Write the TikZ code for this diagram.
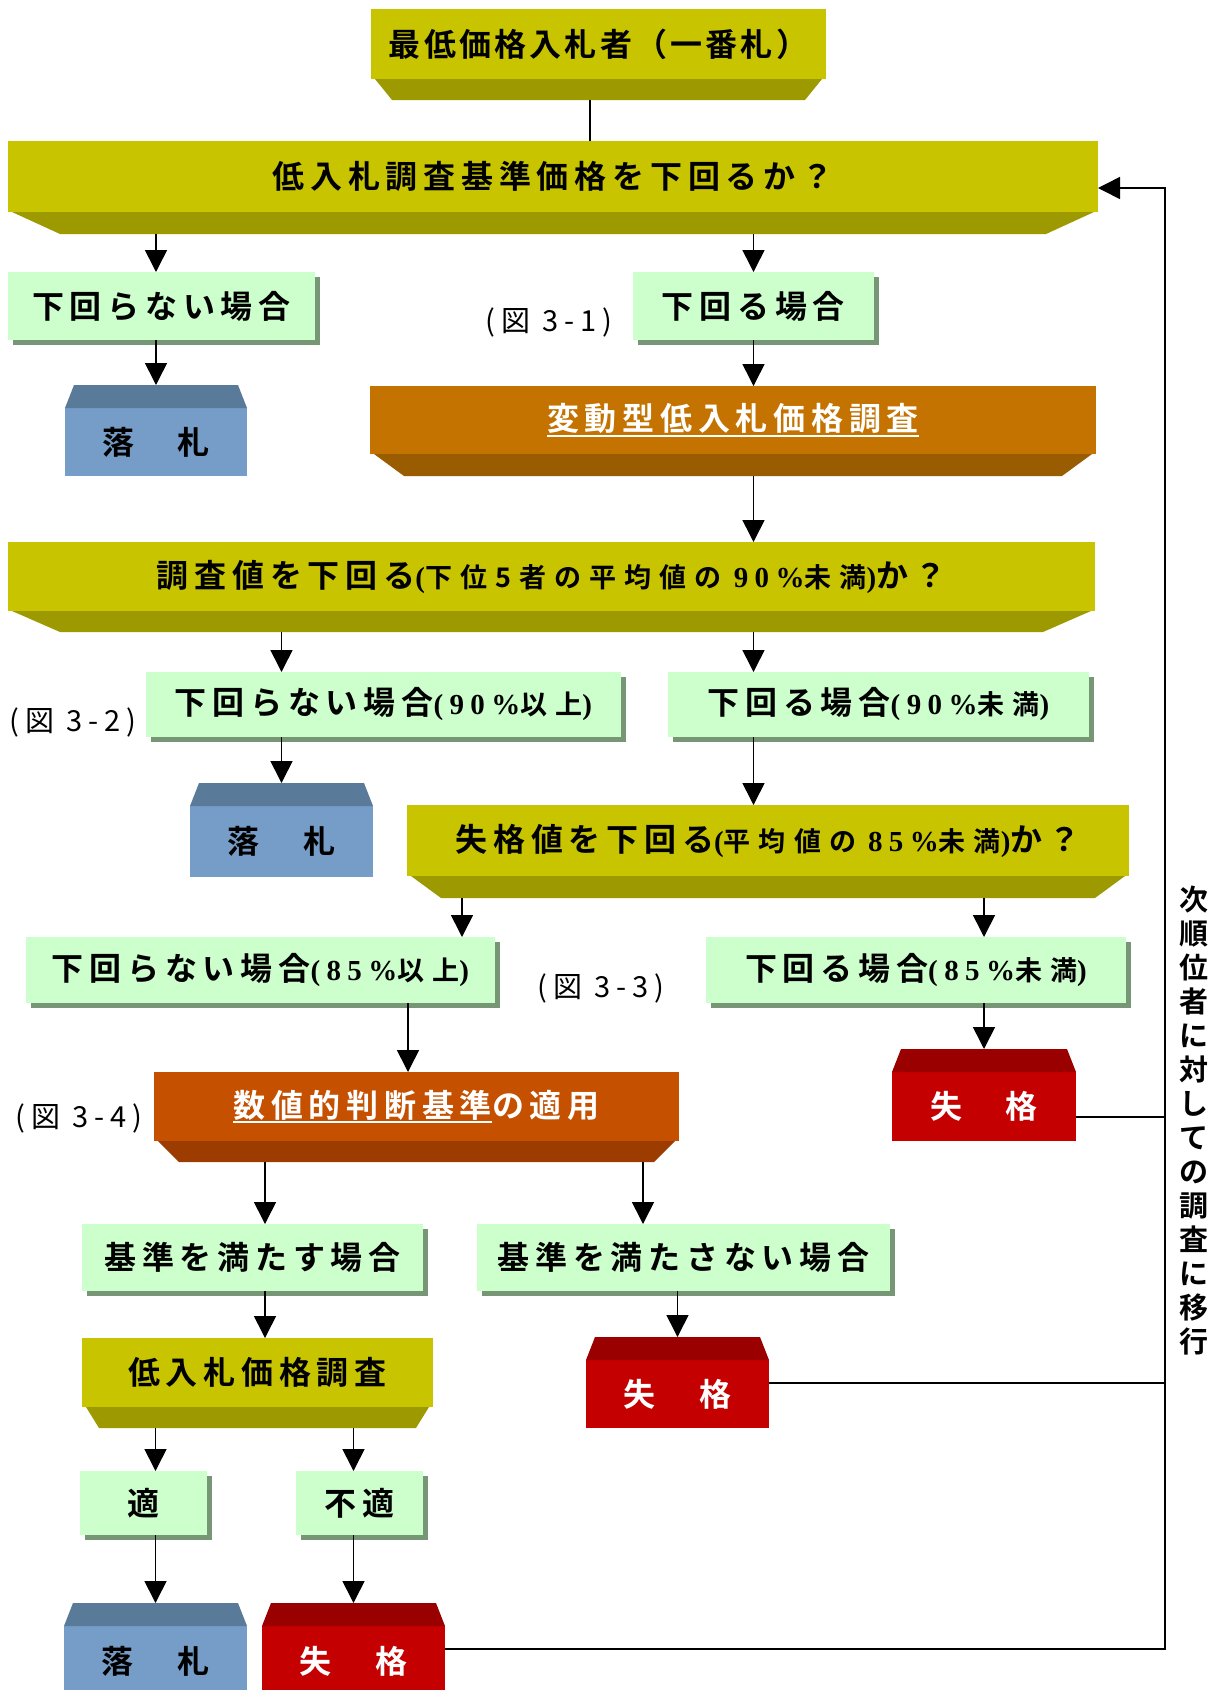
\documentclass[tikz,border=0pt]{standalone}
\usepackage{fontspec}
\usetikzlibrary{arrows.meta,shadows}

\newfontfamily\jpb{Noto Sans CJK JP Bold}
\newfontfamily\jps{Noto Sans CJK JP Bold}[LetterSpace=30]
\newfontfamily\jpr{Noto Sans CJK JP}
\newfontfamily\srb{Liberation Serif Bold}[LetterSpace=22]

\definecolor{yface}{RGB}{200,197,0}
\definecolor{ybev}{RGB}{156,154,0}
\definecolor{gface}{RGB}{204,255,204}
\definecolor{gshad}{RGB}{118,150,118}
\definecolor{bface}{RGB}{117,157,200}
\definecolor{broof}{RGB}{90,122,154}
\definecolor{rface}{RGB}{196,0,0}
\definecolor{rroof}{RGB}{154,0,0}
\definecolor{oface}{RGB}{196,115,0}
\definecolor{obev}{RGB}{154,92,0}
\definecolor{o2face}{RGB}{196,80,0}
\definecolor{o2bev}{RGB}{156,60,0}

\newcommand\jpfont{\jpb\fontsize{32}{36}\selectfont\addfontfeature{LetterSpace=18}}
\newcommand\topfont{\jpb\fontsize{32}{36}\selectfont\addfontfeature{LetterSpace=10}}
\newcommand\figfont{\jpr\fontsize{29}{32}\selectfont\addfontfeature{LetterSpace=20}}
\newcommand\sm[1]{{\jps\fontsize{27}{30}\selectfont #1}}
\newcommand\sr[1]{{\srb\fontsize{29}{30}\selectfont #1}}
\newsavebox\ulbox
\newcommand\ulw[1]{\sbox\ulbox{#1}\rlap{\rule[-6pt]{\wd\ulbox}{2pt}}\usebox\ulbox}

% bevel under a face: node, depth, inset, colour
\newcommand\bevel[4]{%
  \fill[#4] ([xshift=4pt]#1.south west) -- ([xshift=-4pt]#1.south east)
    -- ([shift={(-#3pt,-#2pt)}]#1.south east) -- ([shift={(#3pt,-#2pt)}]#1.south west) -- cycle;
  \coordinate (#1b) at ([yshift=-#2pt]#1.south)}
% roof over a face: node, colour
\newcommand\roof[2]{%
  \fill[#2] (#1.north west) -- (#1.north east)
    -- ([shift={(-9pt,23pt)}]#1.north east) -- ([shift={(9pt,23pt)}]#1.north west) -- cycle;
  \coordinate (#1r) at ([yshift=23pt]#1.north)}

\tikzset{
  box/.style={inner sep=0pt, outer sep=0pt, font=\jpfont},
  yel/.style={box, fill=yface},
  org/.style={box, fill=#1, text=white},
  grn/.style={box, fill=gface, drop shadow={shadow xshift=5pt, shadow yshift=-5pt, fill=gshad, opacity=1}},
  win/.style={box, fill=bface},
  lose/.style={box, fill=rface, text=white},
  fig/.style={inner sep=0pt, font=\figfont},
  ln/.style={line width=1.6pt},
  arr/.style={ln, -{Triangle[width=22pt,length=22pt]}}
}

\begin{document}
\begin{tikzpicture}[x=1pt,y=-1pt]
\fill[white] (0,0) rectangle (1220,1690);
\useasboundingbox (0,0) rectangle (1220,1690);

% first bidder and the first check
\node[yel, minimum width=455pt, minimum height=70pt, font=\topfont] (y1) at (598.5,44) {最低価格入札者（一番札）};
\bevel{y1}{21}{21}{ybev};
\node[yel, minimum width=1090pt, minimum height=71pt] (y2) at (553,176.5) {低入札調査基準価格を下回るか？};
\bevel{y2}{22}{52}{ybev};
\node[grn, minimum width=307pt, minimum height=68pt] (g1) at (161.5,306) {下回らない場合};
\node[grn, minimum width=241pt, minimum height=68pt] (g2) at (753.5,306) {下回る場合};
\node[fig] (fig1) at (549,322) {(図 3-1)};
\node[win, minimum width=182pt, minimum height=68pt] (b1) at (156,442) {落　札};
\roof{b1}{broof};
\node[org=oface, minimum width=726pt, minimum height=68pt] (o1) at (733,420) {\ulw{変動型低入札価格調査}};
\bevel{o1}{22}{34}{obev};

% survey value
\node[yel, minimum width=1087pt, minimum height=69pt] (y3) at (551.5,576.5)
  {調査値を下回る\sr{(}\sm{下位5者の平均値の}\hspace{12pt}\sr{90\%}\sm{未満}\sr{)}か？};
\bevel{y3}{21}{52}{ybev};
\node[grn, minimum width=475pt, minimum height=65pt] (g3) at (383.5,704.5) {下回らない場合\sr{(90\%}\sm{以上}\sr{)}};
\node[grn, minimum width=421pt, minimum height=65pt] (g4) at (878.5,704.5) {下回る場合\sr{(90\%}\sm{未満}\sr{)}};
\node[fig] (fig2) at (73,722) {(図 3-2)};
\node[win, minimum width=183pt, minimum height=71pt] (b2) at (281.5,841.5) {落　札};
\roof{b2}{broof};

% disqualification value
\node[yel, minimum width=722pt, minimum height=71pt] (y4) at (768,840.5)
  {失格値を下回る\sr{(}\sm{平均値の}\hspace{12pt}\sr{85\%}\sm{未満}\sr{)}か？};
\bevel{y4}{22}{34}{ybev};
\node[grn, minimum width=469pt, minimum height=66pt] (g5) at (260.5,970) {下回らない場合\sr{(85\%}\sm{以上}\sr{)}};
\node[grn, minimum width=420pt, minimum height=66pt] (g6) at (916,970) {下回る場合\sr{(85\%}\sm{未満}\sr{)}};
\node[fig] (fig3) at (601,988) {(図 3-3)};
\node[lose, minimum width=184pt, minimum height=69pt] (r1) at (984,1106.5) {失　格};
\roof{r1}{rroof};

% numeric criteria
\node[org=o2face, minimum width=525pt, minimum height=69pt] (o2) at (416.5,1106.5) {\ulw{数値的判断基準}の適用};
\bevel{o2}{21}{25}{o2bev};
\node[fig] (fig4) at (79,1118) {(図 3-4)};
\node[grn, minimum width=341pt, minimum height=67pt] (g7) at (252.5,1257.5) {基準を満たす場合};
\node[grn, minimum width=413pt, minimum height=67pt] (g8) at (683.5,1257.5) {基準を満たさない場合};
\node[lose, minimum width=183pt, minimum height=68pt] (r2) at (677.5,1394) {失　格};
\roof{r2}{rroof};
\node[yel, minimum width=351pt, minimum height=69pt] (y5) at (257.5,1372.5) {低入札価格調査};
\bevel{y5}{21}{17}{ybev};
\node[grn, minimum width=127pt, minimum height=64pt] (g9) at (143.5,1503) {適};
\node[grn, minimum width=127pt, minimum height=64pt] (g10) at (359.5,1503) {不適};
\node[win, minimum width=183pt, minimum height=70pt] (b3) at (155.5,1661) {落　札};
\roof{b3}{broof};
\node[lose, minimum width=183pt, minimum height=70pt] (r3) at (353.5,1661) {失　格};
\roof{r3}{rroof};

\node[inner sep=0pt, align=center, font=\jpb\fontsize{29}{34}\selectfont] (side) at (1194,1121)
  {次\\順\\位\\者\\に\\対\\し\\て\\の\\調\\査\\に\\移\\行};

% connectors
\coordinate (y2in) at (590,141);
\coordinate (g5in) at (462,937);
\coordinate (o2in) at (408,1072);
\coordinate (g7in) at (265,1224);
\coordinate (g8in) at (643,1224);
\coordinate (back) at (1165,188);
\draw[ln] (y1b -| y2in) -- (y2in);
\draw[arr] (y2b -| b1r) -- (g1.north -| b1r);
\draw[arr] (g1.south -| b1r) -- (b1r);
\draw[arr] (y2b -| g2) -- (g2.north);
\draw[arr] (g2.south) -- (o1.north -| g2);
\draw[arr] (o1b -| g2) -- (y3.north -| g2);
\draw[arr] (y3b -| b2r) -- (g3.north -| b2r);
\draw[arr] (g3.south -| b2r) -- (b2r);
\draw[arr] (y3b -| g2) -- (g4.north -| g2);
\draw[arr] (g4.south -| g2) -- (y4.north -| g2);
\draw[arr] (y4b -| g5in) -- (g5in);
\draw[arr] (g5.south -| o2in) -- (o2in);
\draw[arr] (y4b -| r1r) -- (g6.north -| r1r);
\draw[arr] (g6.south -| r1r) -- (r1r);
\draw[arr] (o2b -| g7in) -- (g7in);
\draw[arr] (g7.south -| g7in) -- (y5.north -| g7in);
\draw[arr] (o2b -| g8in) -- (g8in);
\draw[arr] (g8.south -| r2r) -- (r2r);
\draw[arr] (y5b -| b3r) -- (g9.north -| b3r);
\draw[arr] (g9.south -| b3r) -- (b3r);
\draw[arr] (y5b -| r3r) -- (g10.north -| r3r);
\draw[arr] (g10.south -| r3r) -- (r3r);

% back to the next bidder
\coordinate (r1o) at ([yshift=-10.5pt]r1.east);
\coordinate (r2o) at ([yshift=11pt]r2.east);
\coordinate (r3o) at ([yshift=12pt]r3.east);
\draw[arr] (r3o) -| (back) -- (y2.east |- back);
\draw[ln] (r1o) -- (r1o -| back);
\draw[ln] (r2o) -- (r2o -| back);
\end{tikzpicture}
\end{document}
